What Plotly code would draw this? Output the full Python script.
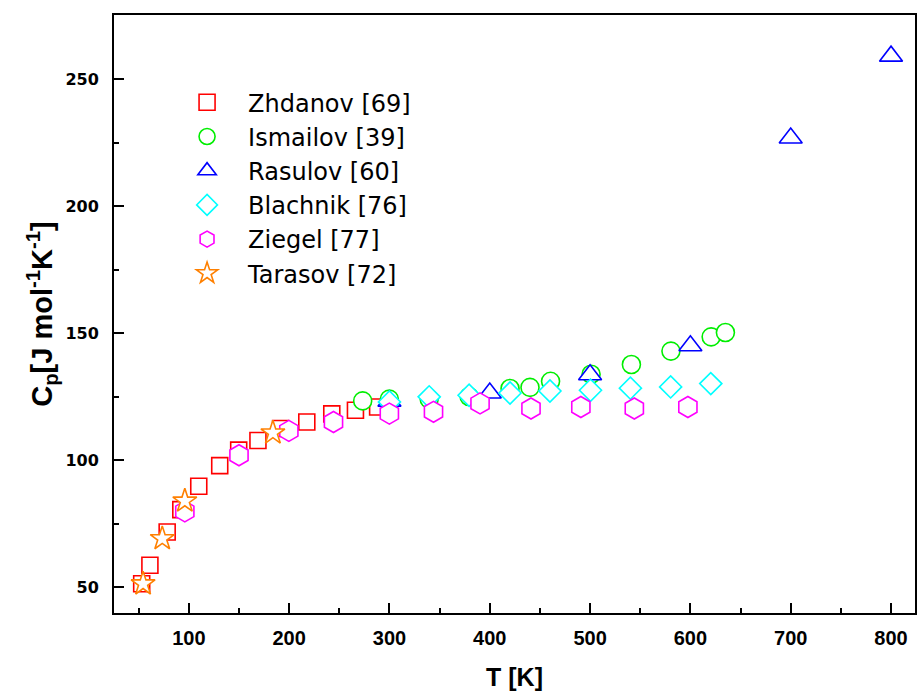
import plotly.graph_objects as go

# Heat capacity data, Cp [J mol^-1 K^-1] versus T [K]
zhdanov_T = [53.0, 61.2, 78.4, 92.0, 109.9, 130.8, 149.7, 168.9, 191.5, 217.6, 242.5, 266.1, 288.2]
zhdanov_Cp = [51.3, 58.6, 71.7, 80.5, 89.7, 97.8, 103.9, 107.7, 112.4, 115.0, 118.2, 119.6, 120.9]

ismailov_T = [273.3, 299.9, 339.6, 379.4, 420.2, 440.1, 460.6, 501.0, 541.2, 580.6, 620.7, 634.9]
ismailov_Cp = [123.3, 124.0, 124.0, 125.0, 128.2, 128.6, 131.0, 133.8, 137.6, 142.9, 148.5, 150.2]

rasulov_T = [300.0, 400.0, 500.0, 600.0, 700.0, 800.0]
rasulov_Cp = [123.2, 126.4, 133.6, 145.0, 226.8, 259.0]

blachnik_T = [300.0, 339.6, 379.4, 420.2, 460.0, 500.4, 540.2, 580.3, 620.3]
blachnik_Cp = [122.9, 124.9, 125.5, 126.4, 127.2, 127.5, 128.3, 128.8, 130.1]

ziegel_T = [96.0, 150.0, 199.7, 244.2, 299.9, 343.9, 390.3, 441.1, 490.8, 544.1, 597.5]
ziegel_Cp = [79.8, 101.9, 111.5, 115.0, 118.3, 119.0, 122.3, 120.3, 120.9, 120.3, 120.9]

tarasov_T = [54.4, 73.5, 96.0, 183.8]
tarasov_Cp = [51.3, 69.1, 83.9, 110.7]

series = [
    ("Zhdanov [69]", zhdanov_T, zhdanov_Cp, "square", "#FF0000", 16),
    ("Ismailov [39]", ismailov_T, ismailov_Cp, "circle", "#00EE00", 18),
    ("Rasulov [60]", rasulov_T, rasulov_Cp, "triangle-up", "#0000FF", 20),
    ("Blachnik [76]", blachnik_T, blachnik_Cp, "diamond", "#00FFFF", 17),
    ("Ziegel [77]", ziegel_T, ziegel_Cp, "hexagon", "#FF00FF", 21),
    ("Tarasov [72]", tarasov_T, tarasov_Cp, "star", "#FF8000", 18),
]

fig = go.Figure()
for name, xs, ys, sym, col, size in series:
    fig.add_trace(go.Scatter(
        x=xs, y=ys, mode="markers", name=name,
        marker=dict(symbol=sym, size=size, color="white",
                    line=dict(color=col, width=1.6)),
    ))

axis_common = dict(
    showline=True, linecolor="black", linewidth=2, mirror=True,
    ticks="inside", ticklen=10, tickwidth=2, tickcolor="black",
    showgrid=False, zeroline=False,
)

fig.update_xaxes(
    range=[25.4, 823.9], dtick=100, tick0=0,
    minor=dict(ticks="inside", ticklen=5, tickwidth=2, tickcolor="black", dtick=50, tick0=0),
    tickfont=dict(family="Liberation Sans, Arial", size=20, color="black", weight="bold"),
    title=dict(text="<b>T [K]</b>", font=dict(family="Liberation Sans, Arial", size=25, color="black"),
               standoff=20),
    ticklabelstandoff=6,
    **axis_common,
)
fig.update_yaxes(
    range=[39.8, 275.2], dtick=50, tick0=0,
    minor=dict(ticks="inside", ticklen=5, tickwidth=2, tickcolor="black", dtick=25, tick0=0),
    tickfont=dict(family="DejaVu Sans", size=16, color="black", weight="bold"),
    title=dict(text="<b>C<sub>p</sub>[J mol<sup>-1</sup>K<sup>-1</sup>]</b>",
               font=dict(family="Liberation Sans, Arial", size=29, color="black"),
               standoff=4),
    ticklabelstandoff=10,
    **axis_common,
)

fig.update_layout(
    width=920, height=694,
    margin=dict(l=114, r=3, t=15, b=81),
    paper_bgcolor="white", plot_bgcolor="white",
    showlegend=True,
    legend=dict(
        x=0.065, y=0.891, xanchor="left", yanchor="top",
        bgcolor="rgba(0,0,0,0)", borderwidth=0,
        itemwidth=72,
        font=dict(family="DejaVu Sans", size=24, color="black"),
    ),
)

fig.write_html("out.html")
